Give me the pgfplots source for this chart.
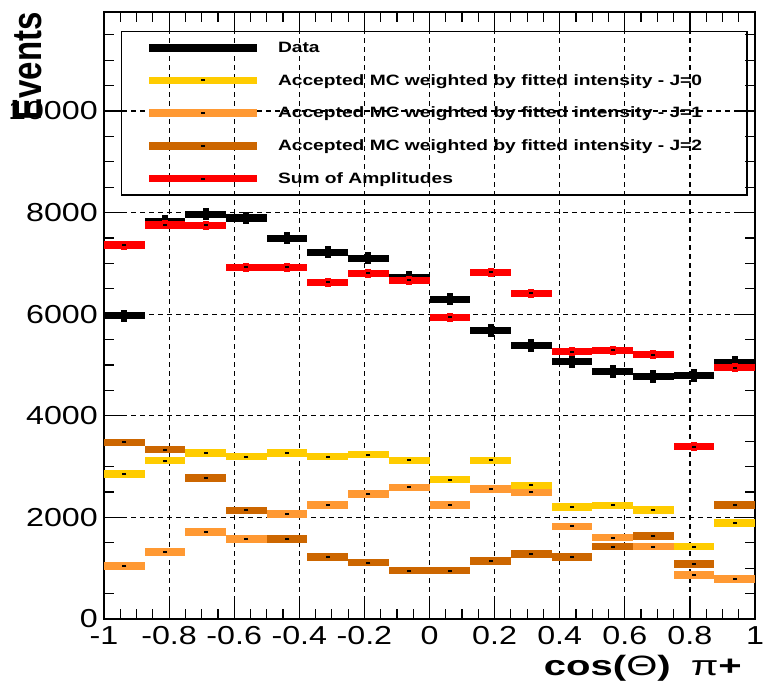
\documentclass[border=0pt]{standalone}
\usepackage{pgfplots}
\pgfplotsset{compat=1.18}
\usepackage{pgfplotstable}
\usepackage{fontspec}
\setmainfont{Liberation Sans}
\usepackage{graphicx}

\definecolor{jzero}{RGB}{255,204,0}
\definecolor{jone}{RGB}{255,153,51}
\definecolor{jtwo}{RGB}{204,102,0}
\definecolor{sumred}{RGB}{255,0,0}

\newcommand{\tl}[1]{\scalebox{1.24}[1]{#1}}
\newcommand{\lt}[1]{\makebox[462pt][l]{\hspace{17pt}\scalebox{1.28}[1]{\bfseries #1}}}

\pgfplotstableread{
x       data  sum   jz    jo    jt
-0.9375 5970  7360  2850  1045  3478
-0.8125 7830  7760  3116  1321  3333
-0.6875 7968  7750  3268  1709  2775
-0.5625 7890  6923  3195  1578  2137
-0.4375 7495  6923  3268  2065  1572
-0.3125 7219  6627  3195  2248  1217
-0.1875 7100  6805  3235  2465  1111
-0.0625 6726  6667  3122  2590  953
 0.0625 6292  5937  2742  2242  953
 0.1875 5680  6824  3122  2558  1144
 0.3125 5385  6410  2630  2492  1282
 0.4375 5069  5266  2203  1821  1217
 0.5625 4872  5286  2236  1604  1426
 0.6875 4773  5207  2150  1426  1637
 0.8125 4793  3392  1426  868   1078
 0.9375 5049  4950  1887  789   2242
}\histtab

\pgfplotsset{
  hbar/.style={draw=none, mark=none, forget plot,
    error bars/.cd, x dir=both, x fixed=0.0625, error mark=none,
    error bar style={draw=#1, line width=7.5pt}},
  vbar/.style 2 args={draw=none, mark=none, forget plot,
    error bars/.cd, y dir=both, y fixed=#2, error mark=none,
    error bar style={draw=#1, line width=6pt}},
  cmark/.style={only marks, mark=-, mark size=2pt, forget plot,
    mark options={draw=black, line width=2pt}},
}

\begin{document}
\begin{tikzpicture}
\path[use as bounding box] (0,0) rectangle (764pt,696pt);
\begin{axis}[
  at={(104pt,77pt)}, anchor=south west,
  scale only axis, width=651pt, height=607pt,
  xmin=-1, xmax=1, ymin=0, ymax=11950,
  xtick={-1,-0.8,-0.6,-0.4,-0.2,0,0.2,0.4,0.6,0.8,1},
  xticklabels={\tl{-1},\tl{-0.8},\tl{-0.6},\tl{-0.4},\tl{-0.2},\tl{0},\tl{0.2},\tl{0.4},\tl{0.6},\tl{0.8},\tl{1}},
  ytick={0,2000,4000,6000,8000,10000},
  yticklabels={\tl{0},\tl{2000},\tl{4000},\tl{6000},\tl{8000},\tl{10000}},
  minor xtick={-0.95,-0.9,-0.85,-0.75,-0.7,-0.65,-0.55,-0.5,-0.45,-0.35,-0.3,-0.25,-0.15,-0.1,-0.05,0.05,0.1,0.15,0.25,0.3,0.35,0.45,0.5,0.55,0.65,0.7,0.75,0.85,0.9,0.95},
  minor ytick={500,1000,1500,2500,3000,3500,4500,5000,5500,6500,7000,7500,8500,9000,9500,10500,11000,11500},
  tick align=inside,
  major tick length=18pt, minor tick length=10pt,
  tick style={black, line width=1.2pt},
  axis line style={line width=1.5pt},
  grid=major,
  major grid style={black, line width=1.2pt, dash pattern=on 5pt off 4pt},
  ticklabel style={font=\fontsize{26}{28}\selectfont},
  xticklabel style={inner sep=0pt, yshift=-7pt},
  yticklabel style={inner sep=0pt, xshift=-6pt},
  legend style={at={(axis description cs:0.026,0.969)}, anchor=north west,
    draw=black, line width=1.2pt, fill=none,
    inner xsep=24pt, inner ysep=0pt, row sep=0pt, column sep=0pt,
    nodes={inner xsep=0pt, inner ysep=0pt, minimum height=32.7pt},
    font=\fontsize{15}{17}\selectfont},
  legend cell align=left,
  legend image code/.code={
    \draw[#1] (0pt,0pt) -- (108pt,0pt);
    \path[fill=black, draw=none] (52pt,-1pt) rectangle (56pt,1pt);
  },
]
% data
\addplot[hbar=black] table[x=x, y=data] {\histtab};
\addplot[vbar={black}{120}] table[x=x, y=data] {\histtab};
% J=0
\addplot[hbar=jzero] table[x=x, y=jz] {\histtab};
\addplot[cmark] table[x=x, y=jz] {\histtab};
% J=1
\addplot[hbar=jone] table[x=x, y=jo] {\histtab};
\addplot[cmark] table[x=x, y=jo] {\histtab};
% J=2
\addplot[hbar=jtwo] table[x=x, y=jt] {\histtab};
\addplot[cmark] table[x=x, y=jt] {\histtab};
% sum
\addplot[hbar=sumred] table[x=x, y=sum] {\histtab};
\addplot[vbar={sumred}{90}] table[x=x, y=sum] {\histtab};
\addplot[cmark] table[x=x, y=sum] {\histtab};

\addlegendimage{black, line width=7.5pt}
\addlegendentry{\lt{Data}}
\addlegendimage{jzero, line width=7.5pt}
\addlegendentry{\lt{Accepted MC weighted by fitted intensity - J=0}}
\addlegendimage{jone, line width=7.5pt}
\addlegendentry{\lt{Accepted MC weighted by fitted intensity - J=1}}
\addlegendimage{jtwo, line width=7.5pt}
\addlegendentry{\lt{Accepted MC weighted by fitted intensity - J=2}}
\addlegendimage{sumred, line width=7.5pt}
\addlegendentry{\lt{Sum of Amplitudes}}
\end{axis}
\node[rotate=90, anchor=east, font=\fontsize{33}{36}\selectfont\bfseries, inner sep=0pt] at (28pt,684pt) {\scalebox{1}[1.25]{Events}};
\node[anchor=east, font=\fontsize{28}{32}\selectfont, inner sep=0pt] at (742pt,28pt) {\scalebox{1.43}[1]{\textbf{cos(}Θ\textbf{)}\hspace{0.5em}π\textbf{+}}};
\end{tikzpicture}
\end{document}
